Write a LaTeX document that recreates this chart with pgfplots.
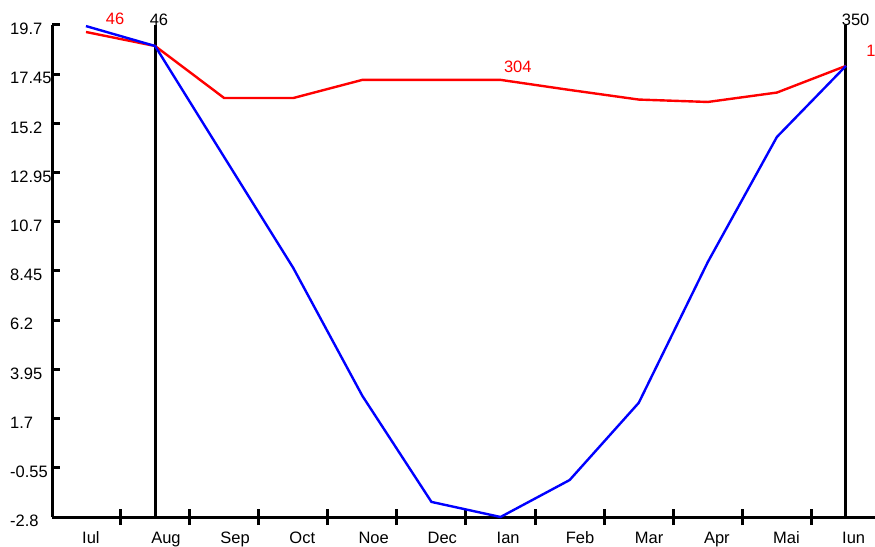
\documentclass[border=0pt]{standalone}
\usepackage{pgfplots}
\pgfplotsset{compat=1.18}
\usepackage{fontspec}
\setmainfont{Liberation Sans}
\pgfplotstableread{
i blue red
0 19.65 19.38
1 18.74 18.74
2 13.66 16.36
3 8.59 16.36
4 2.74 17.19
5 -2.11 17.19
6 -2.80 17.19
7 -1.11 16.73
8 2.42 16.29
9 8.86 16.18
10 14.58 16.61
11 17.83 17.83
}\datatable
\begin{document}
\begin{tikzpicture}[x=1pt,y=1pt]
\useasboundingbox (-52,-29) rectangle (823,517);
\begin{axis}[
  at={(0,0)}, anchor=south west,
  scale only axis, width=823pt, height=492pt,
  xmin=-0.492, xmax=11.42, ymin=-2.8, ymax=19.7,
  axis x line=bottom, axis y line=left,
  axis line style={-, line width=3pt, black},
  clip=false,
  tick align=inside,
  major tick length=8pt,
  minor tick length=16pt,
  xtick={0,...,11},
  xticklabels={Iul,Aug,Sep,Oct,Noe,Dec,Ian,Feb,Mar,Apr,Mai,Iun},
  minor x tick num=1,
  every major x tick/.append style={draw=none},
  every minor x tick/.append style={yshift=-8pt, line width=3pt, black},
  every major y tick/.append style={line width=3pt, black},
  ytick={-2.8,-0.55,1.7,3.95,6.2,8.45,10.7,12.95,15.2,17.45,19.7},
  yticklabels={-2.8,-0.55,1.7,3.95,6.2,8.45,10.7,12.95,15.2,17.45,19.7},
  every tick label/.append style={font=\fontsize{16.5}{18}\selectfont, inner sep=0pt, text=black},
  yticklabel style={anchor=north west, xshift=-42pt, yshift=2pt},
  xticklabel style={anchor=base west, xshift=-4pt, yshift=-26.5pt},
]
\addplot[black, line width=3pt] coordinates {(1,-2.8) (1,19.7)};
\addplot[black, line width=3pt] coordinates {(11,-2.8) (11,19.7)};
\addplot[red, line width=2.4pt] table[x=i, y=red] {\datatable};
\addplot[blue, line width=2.4pt] table[x=i, y=blue] {\datatable};
\node[text=red, font=\fontsize{16.5}{18}\selectfont, inner sep=0pt] at (axis cs:0.42,20.0) {46};
\node[text=black, font=\fontsize{16.5}{18}\selectfont, inner sep=0pt] at (axis cs:1.056,19.95) {46};
\node[text=red, font=\fontsize{16.5}{18}\selectfont, inner sep=0pt] at (axis cs:6.25,17.80) {304};
\node[text=black, font=\fontsize{16.5}{18}\selectfont, inner sep=0pt] at (axis cs:11.14,19.95) {350};
\node[text=red, font=\fontsize{16.5}{18}\selectfont, inner sep=0pt] at (axis cs:11.36,18.51) {1};
\end{axis}
\end{tikzpicture}
\end{document}
